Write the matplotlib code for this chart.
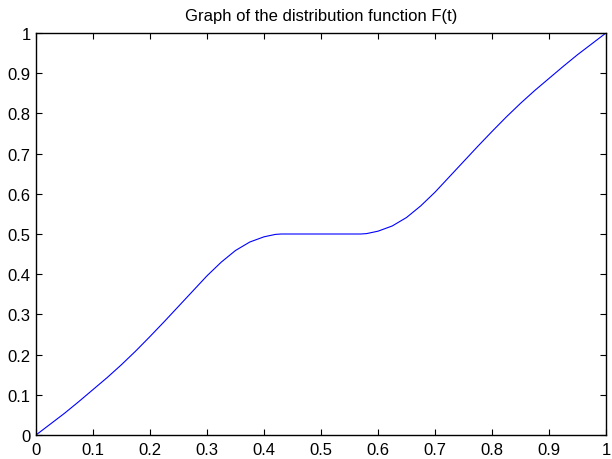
import matplotlib
matplotlib.use("Agg")
import matplotlib.pyplot as plt

t_values = [0, 0.025, 0.05, 0.075, 0.1, 0.125, 0.15, 0.175, 0.2, 0.225, 0.25,
            0.275, 0.3, 0.325, 0.35, 0.375, 0.4, 0.42, 0.43, 0.5,
            0.57, 0.58, 0.6, 0.625, 0.65, 0.675, 0.7, 0.725, 0.75, 0.775,
            0.8, 0.825, 0.85, 0.875, 0.9, 0.925, 0.95, 0.975, 1.0]
F_values = [0, 0.027, 0.054, 0.083, 0.113, 0.143, 0.175, 0.209, 0.245, 0.282, 0.32,
            0.358, 0.396, 0.430, 0.459, 0.480, 0.493, 0.499, 0.5, 0.5,
            0.5, 0.501, 0.507, 0.520, 0.541, 0.570, 0.604, 0.642, 0.680, 0.718,
            0.755, 0.791, 0.825, 0.857, 0.887, 0.917, 0.946, 0.973, 1.0]
x_ticks = [0, 0.1, 0.2, 0.3, 0.4, 0.5, 0.6, 0.7, 0.8, 0.9, 1]
y_ticks = [0, 0.1, 0.2, 0.3, 0.4, 0.5, 0.6, 0.7, 0.8, 0.9, 1]
tick_labels = ["0", "0.1", "0.2", "0.3", "0.4", "0.5", "0.6", "0.7", "0.8", "0.9", "1"]
title = "Graph of the distribution function F(t)"

plt.rcParams['font.family'] = ['Liberation Sans', 'DejaVu Sans']

fig = plt.figure(figsize=(6.12, 4.60), dpi=100)
ax = fig.add_axes([36/612, 1 - 436/460, (606 - 36)/612, (436 - 34)/460])
ax.plot(t_values, F_values, color=(0, 0, 1), linewidth=0.8)
ax.set_xlim(0, 1)
ax.set_ylim(0, 1)
ax.set_xticks(x_ticks)
ax.set_xticklabels(tick_labels)
ax.set_yticks(y_ticks)
ax.set_yticklabels(tick_labels)
ax.tick_params(direction='in', length=4, width=0.8, top=True, right=True,
               labelsize=12, colors='black')
ax.tick_params(axis='x', pad=5.0)
ax.tick_params(axis='y', pad=3.8)
for s in ax.spines.values():
    s.set_linewidth(1.0)
ax.set_title(title, fontsize=12, pad=9)
fig.savefig("out.png", dpi=100)
